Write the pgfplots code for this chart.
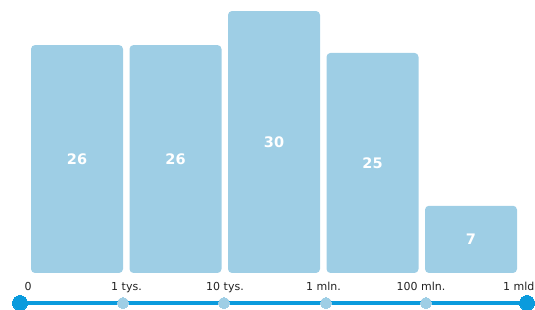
\documentclass[border=0pt]{standalone}
\usepackage{pgfplots}
\pgfplotsset{compat=1.18}
\usepackage{fontspec}
\setmainfont{DejaVu Sans}
\definecolor{barblue}{HTML}{9ECEE5}
\definecolor{lineblue}{HTML}{0A9BDD}
\definecolor{txt}{HTML}{222222}
\begin{document}
\begin{tikzpicture}
\begin{axis}[
  scale only axis, width=535bp, height=310bp,
  xmin=0, xmax=535, ymin=-4.237, ymax=31.26,
  hide axis, clip=false,
]
% bars
\addplot[ybar, bar width=92, fill=barblue, draw=none, rounded corners=4bp]
  coordinates {(77,26.1) (175.5,26.1) (274,30) (372.5,25.2) (471,7.7)};
% bar labels
\addplot[draw=none, mark=none, nodes near coords, point meta=explicit symbolic,
  every node near coord/.append style={anchor=center, text=white, font=\fontsize{14.5bp}{17bp}\selectfont\bfseries}]
  table[meta=l, row sep=\\] {x y l\\ 77 13.05 26\\ 175.5 13.05 26\\ 274 15 30\\ 372.5 12.6 25\\ 471 3.85 7\\};
% timeline
\addplot[lineblue, line width=4.5bp, mark=none] coordinates {(20,-3.435) (527,-3.435)};
\addplot[barblue, only marks, mark=*, mark size=5.5bp, mark options={fill=barblue, draw=barblue, line width=0pt}]
  coordinates {(123,-3.435) (224,-3.435) (326,-3.435) (426,-3.435)};
\addplot[lineblue, only marks, mark=*, mark size=7.5bp, mark options={fill=lineblue, draw=lineblue, line width=0pt}]
  coordinates {(20,-3.435) (527,-3.435)};
% tick labels
\begin{scope}[every node/.style={text=txt, font=\fontsize{11bp}{13bp}\selectfont, inner sep=0pt}]
\node[anchor=base] at (axis cs:28,-1.95) {0};
\node[anchor=base] at (axis cs:126.5,-1.95) {1 tys.};
\node[anchor=base] at (axis cs:225,-1.95) {10 tys.};
\node[anchor=base] at (axis cs:323.5,-1.95) {1 mln.};
\node[anchor=base] at (axis cs:421,-1.95) {100 mln.};
\node[anchor=base east] at (axis cs:534.5,-1.95) {1 mld};
\end{scope}
\end{axis}
\pgfresetboundingbox
\useasboundingbox (0,0) rectangle (535bp,310bp);
\end{tikzpicture}
\end{document}
